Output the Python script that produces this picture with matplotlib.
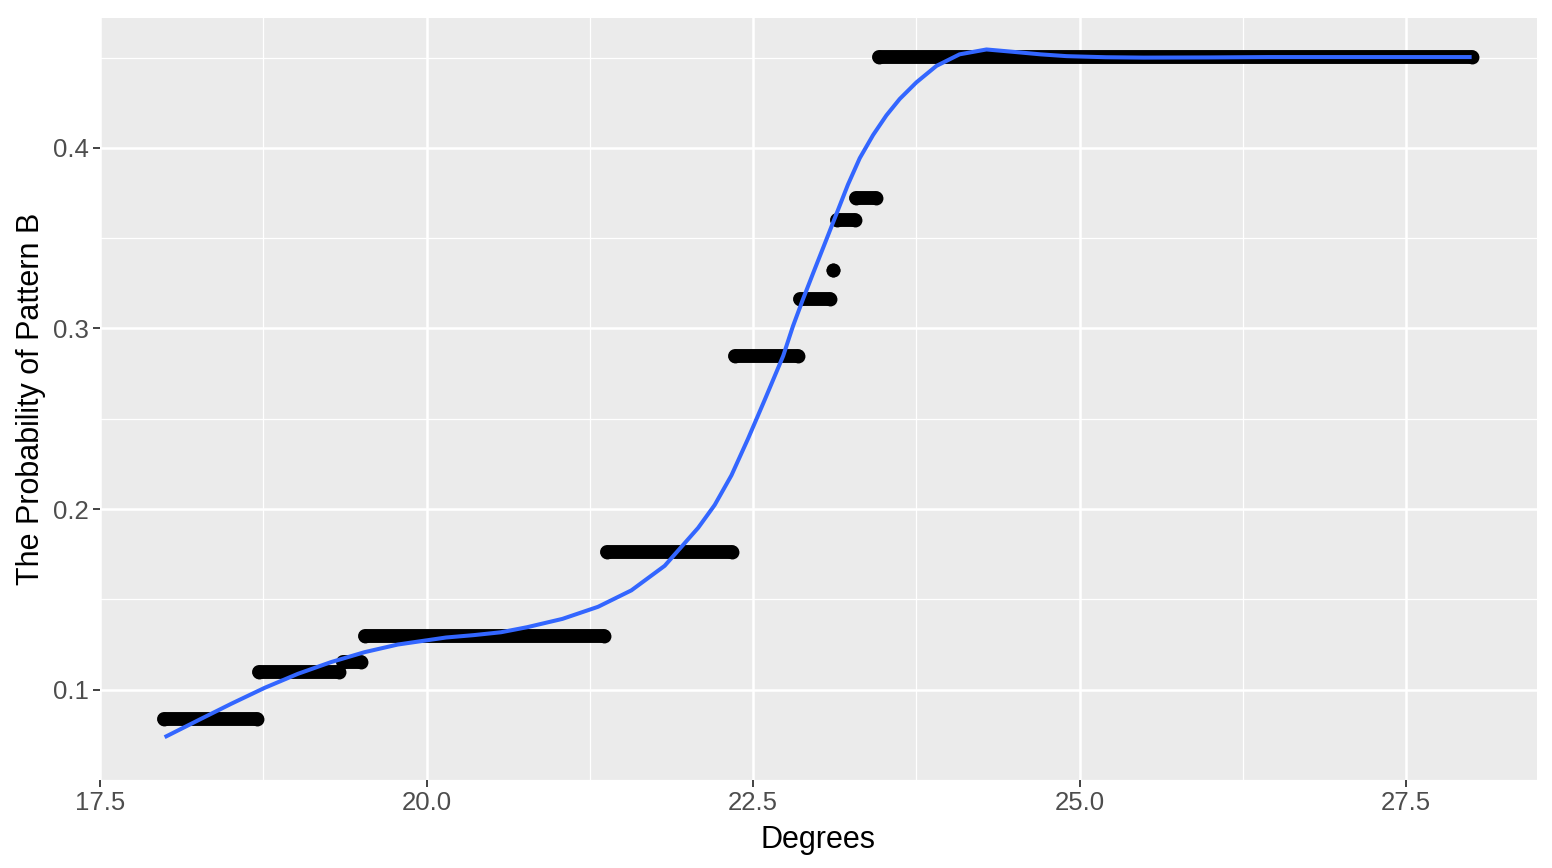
import numpy as np
import matplotlib.pyplot as plt

# ---------- data ----------
# each run of points: start degree, end degree, probability
seg_start = [17.99, 18.72, 19.36, 19.53, 21.38, 22.36, 22.86, 23.11, 23.14, 23.29, 23.46]
seg_end = [18.70, 19.33, 19.50, 21.36, 22.34, 22.84, 23.09, 23.11, 23.28, 23.44, 28.00]
seg_prob = [0.0835, 0.1098, 0.1156, 0.1300, 0.1760, 0.2845, 0.3163, 0.3323, 0.3603, 0.3720, 0.4503]

# smooth (loess) curve
smooth_x = [17.995, 18.25, 18.505, 18.76, 19.016, 19.27, 19.527, 19.78, 20.15, 20.36, 20.57,
            20.77, 21.04, 21.313, 21.568, 21.823, 22.079, 22.206, 22.334, 22.46, 22.59,
            22.64, 22.73, 22.805, 22.88, 22.958, 23.048, 23.137, 23.226, 23.316, 23.418,
            23.52, 23.622, 23.75, 23.903, 24.08, 24.286, 24.49, 24.70, 24.90, 25.20,
            25.49, 26.00, 26.45, 27.00, 27.50, 28.00]
smooth_y = [0.0737, 0.0830, 0.0922, 0.1010, 0.1088, 0.1153, 0.1208, 0.1250, 0.1289, 0.1302, 0.1318,
            0.1346, 0.1392, 0.1459, 0.1550, 0.1686, 0.1896, 0.2023, 0.2187, 0.2388, 0.2607,
            0.2693, 0.2848, 0.3013, 0.3159, 0.3304, 0.3469, 0.3633, 0.3797, 0.3943, 0.4071,
            0.4180, 0.4271, 0.4363, 0.4454, 0.4518, 0.4545, 0.4532, 0.4518, 0.4508, 0.4502,
            0.4500, 0.4501, 0.4503, 0.4503, 0.4503, 0.4503]

x_ticks = [17.5, 20.0, 22.5, 25.0, 27.5]
y_ticks = [0.1, 0.2, 0.3, 0.4]

# ---------- figure ----------
plt.rcParams['font.family'] = ['Liberation Sans', 'DejaVu Sans']
fig = plt.figure(figsize=(15.52, 8.68), dpi=100)
ax = fig.add_axes([0.0644, 0.1014, 0.9259, 0.8776])
ax.set_facecolor('#EBEBEB')

# runs of overlapping points -> thick round-capped strokes
for x0, x1, p in zip(seg_start, seg_end, seg_prob):
    ax.plot([x0, x1], [p, p], color='black', lw=10, solid_capstyle='round',
            marker='o', ms=10, mew=0, zorder=3)

ax.plot(smooth_x, smooth_y, color='#3366FF', lw=2.9, solid_joinstyle='round',
        solid_capstyle='butt', zorder=4)

ax.set_xlim(17.5, 28.5)
ax.set_ylim(0.0551, 0.4718)
ax.set_xticks(x_ticks)
ax.set_xticklabels([f"{t:.1f}" for t in x_ticks])
ax.set_yticks(y_ticks)
ax.set_yticklabels([f"{t:.1f}" for t in y_ticks])
ax.set_xticks(np.array(x_ticks[:-1]) + 1.25, minor=True)
ax.set_yticks([0.05, 0.15, 0.25, 0.35, 0.45], minor=True)

ax.grid(which='major', color='white', lw=1.8, zorder=0)
ax.grid(which='minor', color='white', lw=0.9, zorder=0)
ax.set_axisbelow(True)
for s in ax.spines.values():
    s.set_visible(False)

ax.tick_params(which='major', length=5, width=1.3, color='#333333',
               labelsize=18.5, labelcolor='#4D4D4D', pad=3)
ax.tick_params(which='minor', length=0)

ax.set_xlabel("Degrees", fontsize=22, labelpad=7)
ax.set_ylabel("The Probability of Pattern B", fontsize=22, labelpad=5)

fig.savefig("out.png", dpi=100)
